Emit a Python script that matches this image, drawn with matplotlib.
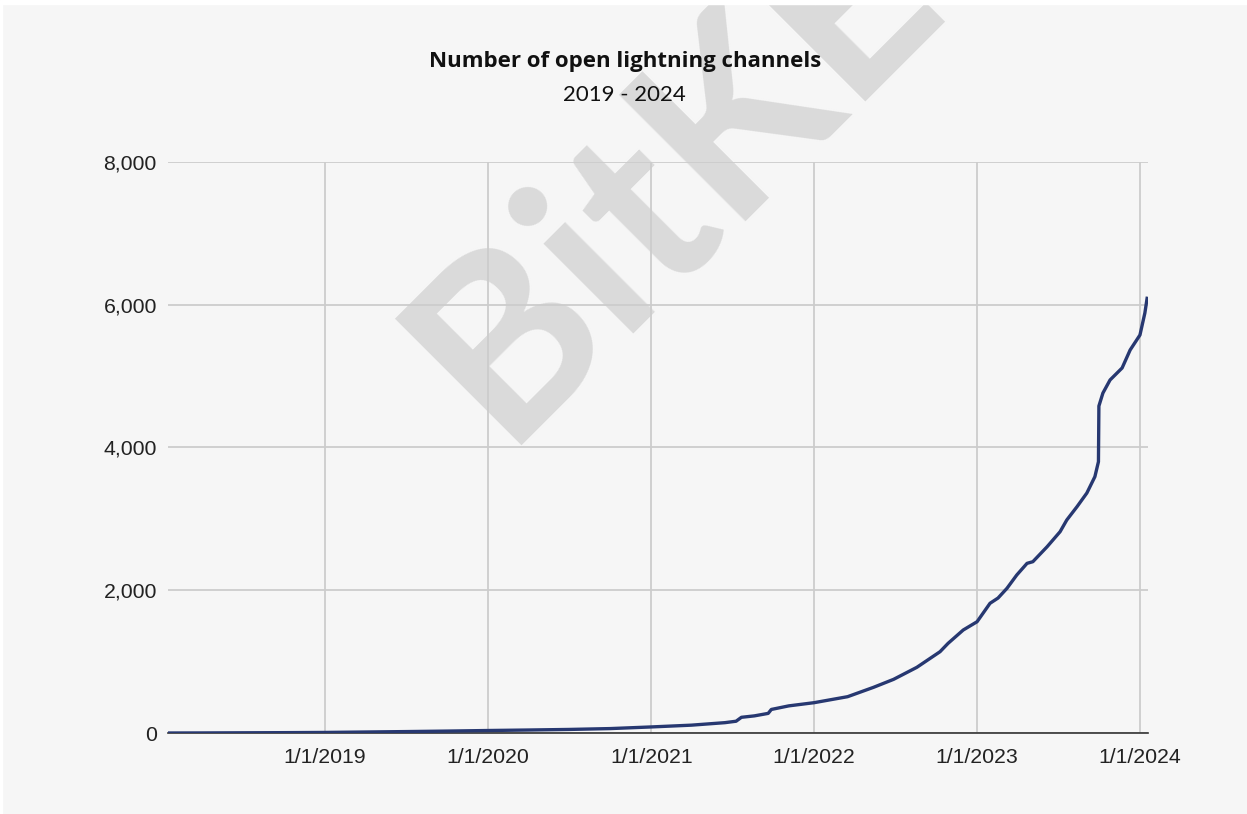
import matplotlib
matplotlib.use("Agg")
from matplotlib import pyplot as plt
from matplotlib.patches import Rectangle
import pandas as pd

# values
dates = ["2018-01-14", "2018-04-01", "2018-07-01", "2018-10-01", "2019-01-01",
         "2019-04-01", "2019-07-01", "2019-10-01", "2020-01-01", "2020-04-01",
         "2020-07-01", "2020-10-01", "2021-01-01", "2021-04-01", "2021-06-15",
         "2021-07-10", "2021-07-22", "2021-08-20", "2021-09-20", "2021-09-27",
         "2021-11-05", "2022-01-01", "2022-03-17", "2022-05-14", "2022-06-28",
         "2022-08-19", "2022-10-10", "2022-10-28", "2022-12-01", "2023-01-01",
         "2023-01-30", "2023-02-17", "2023-03-09", "2023-03-31", "2023-04-23",
         "2023-05-06", "2023-06-07", "2023-07-06", "2023-07-21", "2023-08-13",
         "2023-09-04", "2023-09-22", "2023-09-30", "2023-10-01", "2023-10-10",
         "2023-10-26", "2023-11-22", "2023-12-10", "2024-01-01", "2024-01-12",
         "2024-01-17"]
channels = [0, 1, 3, 5, 8,
            14, 20, 27, 35, 42,
            50, 62, 85, 110, 145,
            165, 220, 240, 275, 330,
            380, 425, 509, 640, 752,
            920, 1139, 1256, 1443, 1559,
            1817, 1891, 2027, 2214, 2377,
            2400, 2610, 2820, 2984, 3171,
            3362, 3591, 3801, 4581, 4763,
            4946, 5114, 5366, 5576, 5884,
            6090]

x_ticks = ["2019-01-01", "2020-01-01", "2021-01-01", "2022-01-01", "2023-01-01", "2024-01-01"]
x_labels = ["1/1/2019", "1/1/2020", "1/1/2021", "1/1/2022", "1/1/2023", "1/1/2024"]
y_ticks = [0, 2000, 4000, 6000, 8000]
y_labels = ["0", "2,000", "4,000", "6,000", "8,000"]

dates = pd.to_datetime(dates)

bg = "#f6f6f6"
fig = plt.figure(figsize=(12.47, 8.14), dpi=100, facecolor=bg)
ax = fig.add_axes([0.1347, 0.0995, 0.7859, 0.7015])
ax.set_facecolor("none")

# watermark
fig.text(0.5405, 0.7875, "BitKE", fontsize=178, fontweight="bold", family="Lato",
         color="#dadada", rotation=45, ha="center", va="center",
         rotation_mode="anchor", zorder=-1)

ax.plot(dates, channels, color="#273871", lw=2.4, solid_joinstyle="round", zorder=3)

ax.set_xlim(dates[0], pd.Timestamp("2024-01-19"))
ax.set_ylim(0, 8000)
ax.set_xticks(pd.to_datetime(x_ticks))
ax.set_xticklabels(x_labels)
ax.set_yticks(y_ticks)
ax.set_yticklabels(y_labels)

ax.grid(True, color="#cccccc", lw=1.3)
ax.set_axisbelow(True)
for s in ["top", "left", "right"]:
    ax.spines[s].set_visible(False)
ax.spines["bottom"].set_color("#333333")
ax.spines["bottom"].set_linewidth(1.2)
ax.tick_params(length=0, labelsize=15.3, labelcolor="#222222", labelfontfamily="Liberation Sans")
ax.tick_params(axis="x", pad=11)
ax.tick_params(axis="y", pad=8)

fig.text(0.501, 1 - 62 / 814, "Number of open lightning channels", fontsize=16,
         fontweight="bold", family="Open Sans", color="#111111", ha="center", va="center")
fig.text(0.501, 1 - 95 / 814, "2019 - 2024", fontsize=16, family="Lato",
         color="#111111", ha="center", va="center")

# thin white frame at the top/left like the screenshot
fig.add_artist(Rectangle((0, 1 - 4 / 814), 1, 4 / 814, transform=fig.transFigure,
                         color="white", zorder=5))
fig.add_artist(Rectangle((0, 0), 1.5 / 1247, 1, transform=fig.transFigure,
                         color="white", zorder=5))

fig.savefig("out.png", dpi=100, facecolor=bg)
